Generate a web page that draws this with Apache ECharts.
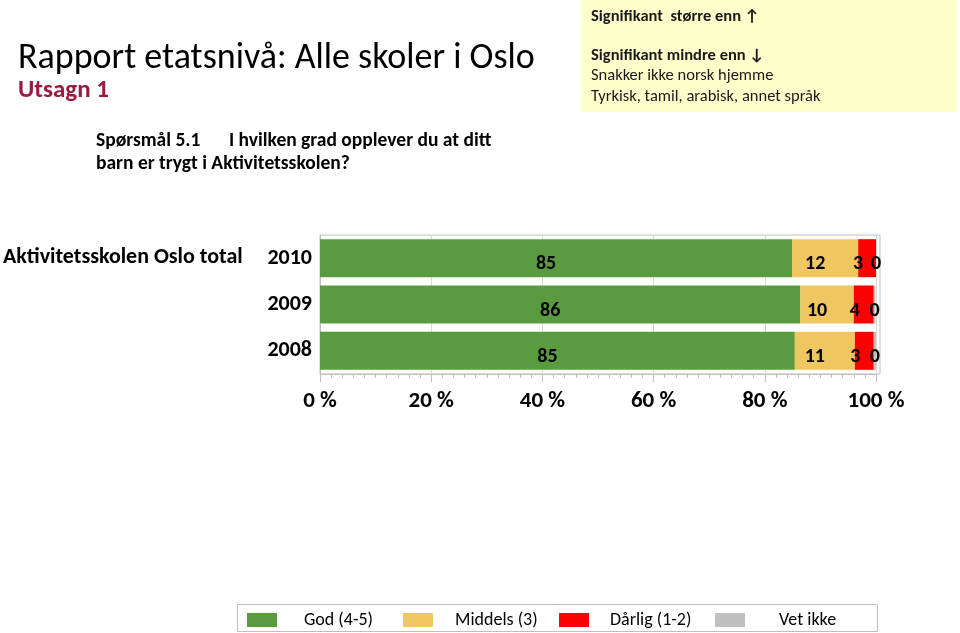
<!DOCTYPE html>
<html>
<head>
<meta charset="utf-8">
<script src="https://cdn.jsdelivr.net/npm/echarts@6/dist/echarts.min.js"></script>
<style>
html,body{margin:0;padding:0;background:#fff;}
#chart{width:960px;height:633px;}
</style>
</head>
<body>
<div id="chart"></div>
<script>
// ---- data ----
const categories = ['2010', '2009', '2008'];
const groupLabel = 'Aktivitetsskolen Oslo total';
const seriesNames = ['God (4-5)', 'Middels (3)', 'Dårlig (1-2)', 'Vet ikke'];
const god = [84.9, 86.4, 85.4];
const middels = [11.9, 9.6, 10.8];
const darlig = [3.2, 3.6, 3.4];
const vetIkke = [0, 0.3, 0.4];
const xTickLabels = ['0 %', '20 %', '40 %', '60 %', '80 %', '100 %'];
const titleText = 'Rapport etatsnivå: Alle skoler i Oslo';
const subtitleText = 'Utsagn 1';
const questionNo = 'Spørsmål 5.1';
const questionLine1 = 'I hvilken grad opplever du at ditt';
const questionLine2 = 'barn er trygt i Aktivitetsskolen?';
const noteLines = ['Signifikant  større enn \u2191', 'Signifikant mindre enn \u2193', 'Snakker ikke norsk hjemme', 'Tyrkisk, tamil, arabisk, annet språk'];

// ---- styling ----
const FONT = 'Carlito, Lato, sans-serif';
const colors = ['#5b9b3f', '#efc660', '#ff0000', '#c0c0c0'];
const values = [god, middels, darlig, vetIkke];
const labelOffsets = [[-10, 6], [-10, 6], [-9, 6], [0, 6]];

const chart = echarts.init(document.getElementById('chart'));

const series = seriesNames.map((name, i) => ({
  name: name,
  type: 'bar',
  stack: 'total',
  data: values[i],
  barCategoryGap: '18%',
  itemStyle: { color: colors[i] },
  label: {
    show: true,
    position: 'inside',
    offset: labelOffsets[i],
    color: '#000',
    fontFamily: FONT,
    fontWeight: 'bold',
    fontSize: 20,
    formatter: p => String(Math.round(p.value))
  }
}));

const legendX = [247, 403, 559, 715];
const legendPad = [22, 17, 16, 29];
const legends = seriesNames.map((name, i) => ({
  data: [name],
  left: legendX[i],
  top: 611,
  itemWidth: 30,
  itemHeight: 14,
  icon: 'rect',
  selectedMode: false,
  padding: 0,
  textStyle: { fontFamily: FONT, fontSize: 18, color: '#000', padding: [3, 0, 0, legendPad[i]] }
}));

const txt = (x, y, text, size, weight, color) => ({
  type: 'text', x: x, y: y,
  style: { text: text, fontFamily: FONT, fontSize: size, fontWeight: weight, fill: color || '#000', textVerticalAlign: 'middle' }
});

chart.setOption({
  backgroundColor: '#fff',
  animation: false,
  grid: { left: 320, width: 556, top: 235, height: 139 },
  xAxis: {
    type: 'value',
    min: 0, max: 100, interval: 20,
    axisLine: { show: true, lineStyle: { color: '#bfbfbf' } },
    axisTick: { show: true, length: 8, lineStyle: { color: '#bfbfbf' } },
    minorTick: { show: true, splitNumber: 10, length: 4, lineStyle: { color: '#bfbfbf' } },
    splitLine: { show: true, lineStyle: { color: '#d9d9d9' } },
    axisLabel: {
      margin: 16,
      fontFamily: FONT, fontSize: 23, fontWeight: 'bold', color: '#000',
      formatter: v => xTickLabels[Math.round(v / 20)]
    }
  },
  yAxis: {
    type: 'category',
    data: categories,
    inverse: true,
    axisLine: { show: true, lineStyle: { color: '#bfbfbf' } },
    axisTick: { show: false },
    axisLabel: { margin: 8, fontFamily: FONT, fontSize: 22, fontWeight: 'bold', color: '#000' }
  },
  legend: legends,
  series: series,
  graphic: [
    { type: 'rect', shape: { x: 320, y: 235, width: 560, height: 139 }, style: { fill: 'none', stroke: '#bfbfbf', lineWidth: 1 }, silent: true },
    { type: 'rect', shape: { x: 581, y: 0, width: 376, height: 112 }, style: { fill: '#ffffcc' }, silent: true },
    { type: 'rect', shape: { x: 237.5, y: 604.5, width: 640, height: 27 }, style: { fill: 'none', stroke: '#bfbfbf', lineWidth: 1 }, silent: true },
    txt(18, 59, titleText, 36, 'normal'),
    txt(18, 91, subtitleText, 25, 'bold', '#9b1a3d'),
    txt(96, 141, questionNo, 19.5, 'bold'),
    txt(229, 141, questionLine1, 19.5, 'bold'),
    txt(96, 164, questionLine2, 19.5, 'bold'),
    txt(3, 257, groupLabel, 22, 'bold'),
    txt(591, 17, noteLines[0], 16.5, 'bold', '#1a1a1a'),
    txt(591, 56, noteLines[1], 16.5, 'bold', '#1a1a1a'),
    txt(591, 76, noteLines[2], 16.5, 'normal', '#1a1a1a'),
    txt(591, 97, noteLines[3], 16.5, 'normal', '#1a1a1a')
  ]
});
</script>
</body>
</html>
